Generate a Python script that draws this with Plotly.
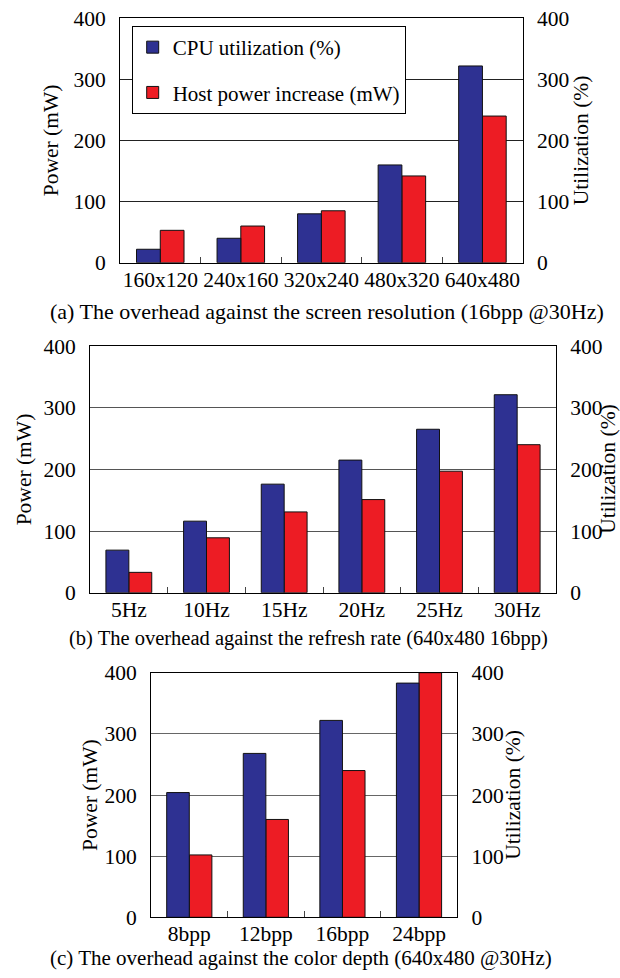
import plotly.graph_objects as go

# ---- data ----
res_labels = ["160x120", "240x160", "320x240", "480x320", "640x480"]
res_cpu = [22, 40, 80, 160, 322]
res_power = [53, 60, 85, 142, 240]

rate_labels = ["5Hz", "10Hz", "15Hz", "20Hz", "25Hz", "30Hz"]
rate_cpu = [69, 116, 176, 215, 265, 321]
rate_power = [33, 89, 131, 151, 197, 240]

depth_labels = ["8bpp", "12bpp", "16bpp", "24bpp"]
depth_cpu = [204, 268, 322, 383]
depth_power = [102, 160, 240, 400]

y_ticks = [0, 100, 200, 300, 400]

captions = [
    "(a) The overhead against the screen resolution (16bpp @30Hz)",
    "(b) The overhead against the refresh rate (640x480 16bpp)",
    "(c) The overhead against the color depth (640x480 @30Hz)",
]
series_names = ["CPU utilization (%)", "Host power increase (mW)"]

BLUE = "#2E3192"
RED = "#ED1C24"
FONT = "Liberation Serif"
W, H = 620, 978
TICK_SIZE = 21.5

def px_x(v):
    return v / W

def px_y(v):
    return 1 - v / H

# panel geometry in pixels: (left, right, top, bottom)
panels = [
    (120, 522.7, 18.3, 262.7),
    (90, 556, 346, 592.7),
    (151, 457.3, 672.7, 917.3),
]
grid_colors = ["#222222", "#555555", "#666666"]
datasets = [
    (res_labels, res_cpu, res_power),
    (rate_labels, rate_cpu, rate_power),
    (depth_labels, depth_cpu, depth_power),
]

fig = go.Figure()
layout = {}
for i, ((labels, cpu, power), (l, r, t, b)) in enumerate(zip(datasets, panels)):
    xn = "" if i == 0 else str(i + 1)
    yl = "" if i == 0 else str(2 * i + 1)
    yr = str(2 * i + 2)
    fig.add_trace(go.Bar(
        x=labels, y=cpu, name=series_names[0],
        xaxis="x" + xn, yaxis="y" + yr, offsetgroup=1,
        marker=dict(color=BLUE, line=dict(color="#111111", width=1)),
        showlegend=(i == 0), legendgroup="cpu",
    ))
    fig.add_trace(go.Bar(
        x=labels, y=power, name=series_names[1],
        xaxis="x" + xn, yaxis="y" + yl, offsetgroup=2,
        marker=dict(color=RED, line=dict(color="#111111", width=1)),
        showlegend=(i == 0), legendgroup="power",
    ))
    layout["xaxis" + xn] = dict(
        domain=[px_x(l), px_x(r)], anchor="y" + yl, automargin=False,
        showline=True, linecolor="black", linewidth=1, mirror=True,
        ticks="inside", tickson="boundaries", ticklen=6, tickcolor="#444",
        tickangle=0,
        tickfont=dict(family=FONT, size=TICK_SIZE, color="black"),
        ticklabelstandoff=-3, showgrid=False, zeroline=False,
    )
    layout["yaxis" + yl] = dict(
        domain=[px_y(b), px_y(t)], anchor="x" + xn, automargin=False,
        range=[0, 400], tickvals=y_ticks,
        showline=True, linecolor="black", linewidth=1,
        showgrid=True, gridcolor=grid_colors[i], gridwidth=1,
        zeroline=False, ticks="",
        tickfont=dict(family=FONT, size=TICK_SIZE, color="black"),
        ticklabelstandoff=9,
    )
    layout["yaxis" + yr] = dict(
        overlaying="y" + yl, anchor="x" + xn, side="right", automargin=False,
        range=[0, 400], tickvals=y_ticks,
        showline=True, linecolor="black", linewidth=1,
        showgrid=False, zeroline=False, ticks="",
        tickfont=dict(family=FONT, size=TICK_SIZE, color="black"),
        ticklabelstandoff=9,
    )

annotations = []
left_title_x = [51.7, 24, 90]
right_title_x = [581.7, 608.5, 512.7]
caption_y = [312, 638, 958]
caption_x = [48, 67, 48]
caption_size = [22, 20.5, 21]
for i, (l, r, t, b) in enumerate(panels):
    cy = px_y((t + b) / 2)
    annotations.append(dict(
        text="Power (mW)", x=px_x(left_title_x[i]), y=cy,
        xref="paper", yref="paper", showarrow=False, textangle=-90,
        xanchor="center", yanchor="middle",
        font=dict(family=FONT, size=21.5, color="black"),
    ))
    annotations.append(dict(
        text="Utilization (%)", x=px_x(right_title_x[i]), y=cy,
        xref="paper", yref="paper", showarrow=False, textangle=-90,
        xanchor="center", yanchor="middle",
        font=dict(family=FONT, size=21.5, color="black"),
    ))
    annotations.append(dict(
        text=captions[i], x=px_x(caption_x[i]), y=px_y(caption_y[i]),
        xref="paper", yref="paper", showarrow=False,
        xanchor="left", yanchor="middle",
        font=dict(family=FONT, size=caption_size[i], color="black"),
    ))

fig.update_layout(
    template="none",
    width=W, height=H,
    margin=dict(l=0, r=0, t=0, b=0, pad=0),
    paper_bgcolor="white", plot_bgcolor="white",
    barmode="group", bargap=0.41, bargroupgap=0,
    font=dict(family=FONT, size=20, color="black"),
    legend=dict(
        x=px_x(131.7), y=px_y(26), xanchor="left", yanchor="top",
        bgcolor="white", bordercolor="black", borderwidth=1,
        font=dict(family=FONT, size=21, color="black"),
        traceorder="grouped", tracegroupgap=15,
    ),
    annotations=annotations,
    **layout,
)

fig.write_html(
    "out.html",
    config={"displayModeBar": False},
    post_script="document.body.style.margin='0';",
)
